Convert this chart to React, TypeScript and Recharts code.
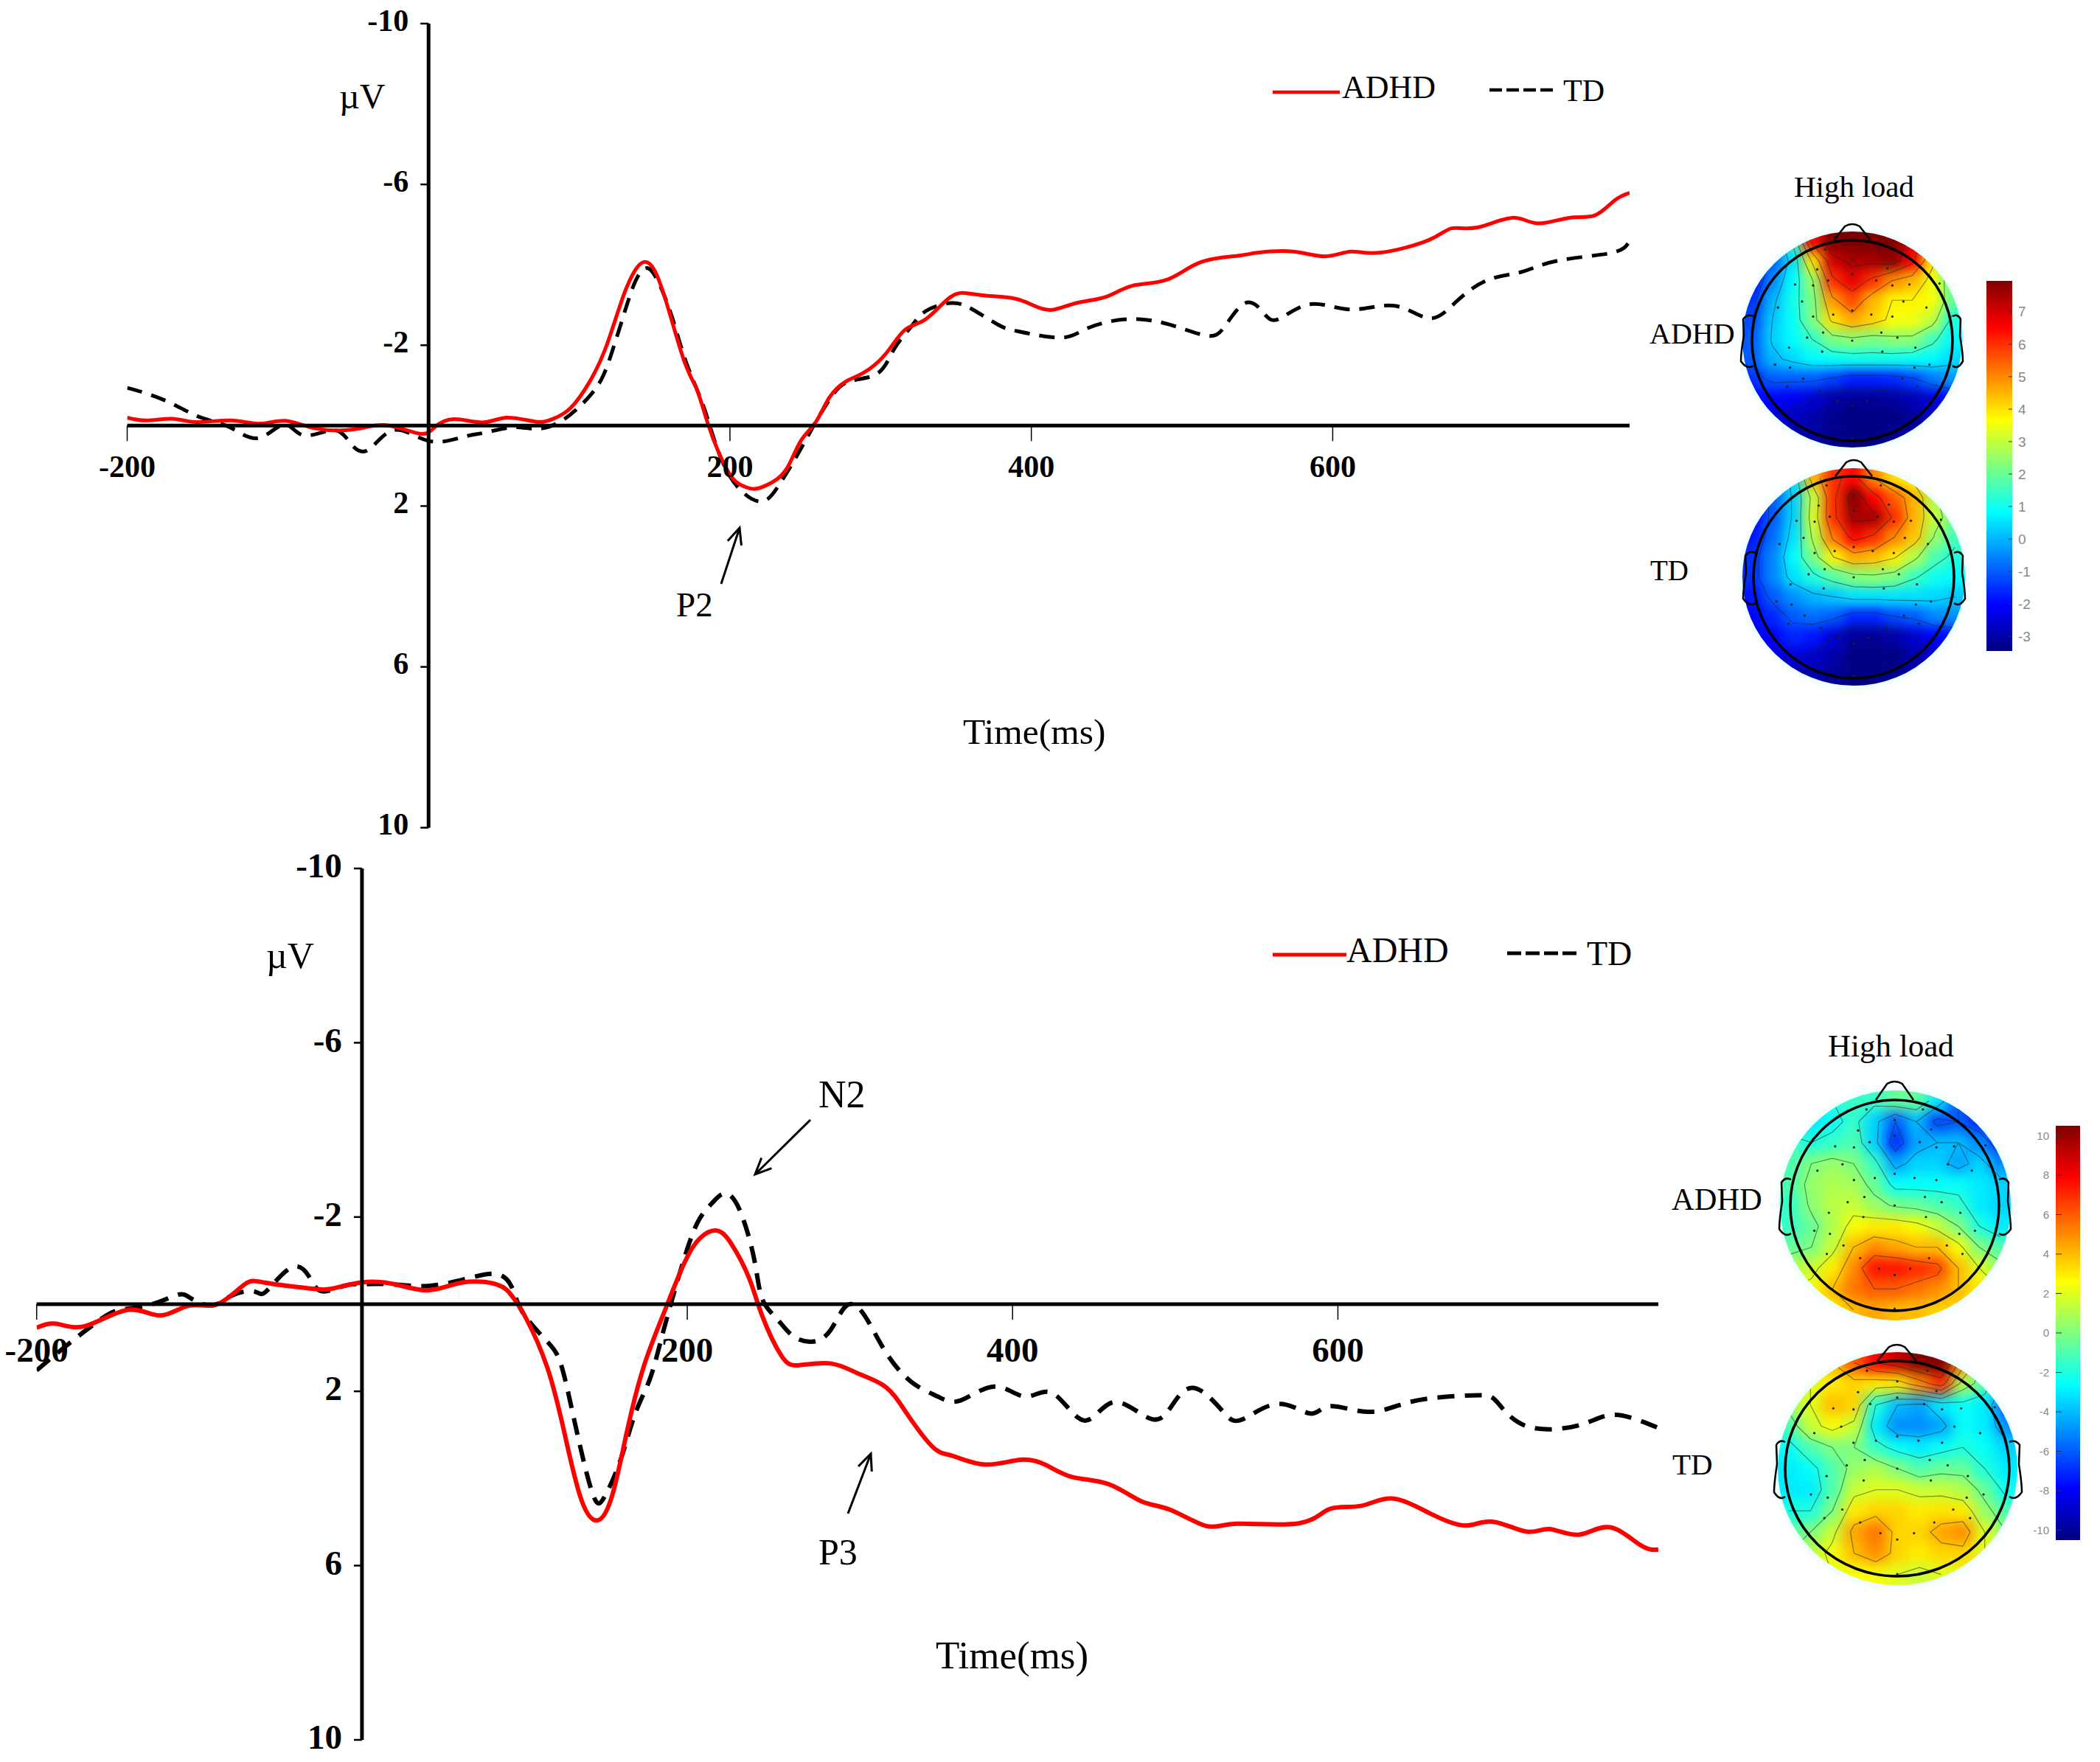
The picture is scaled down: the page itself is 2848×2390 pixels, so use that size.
import { Bar, BarChart, Line, LineChart, ReferenceLine, Scatter, ScatterChart, XAxis, YAxis } from "recharts";

const SERIF = "'Liberation Serif', 'Times New Roman', serif";

// [ms, uV]
const topAdhd = [
  [-200, -0.2], [-187, -0.13], [-170, -0.17], [-154, -0.09], [-131, -0.13], [-112, -0.05], [-95, -0.12], [-75, 0.07],
  [-49, 0.09], [-28, -0.01], [-6, 0.2], [4, 0.04], [17, -0.16], [36, -0.08], [52, -0.2], [71, -0.1], [82, -0.16],
  [94, -0.43], [107, -1.1], [118, -1.98], [129, -3.2], [137, -3.86], [143, -4.07], [150, -3.86], [159, -2.92],
  [170, -1.57], [178, -0.9], [185, -0.09], [193, 0.71], [202, 1.32], [210, 1.52], [217, 1.57], [228, 1.41],
  [238, 1.05], [247, 0.38], [257, -0.09], [266, -0.7], [277, -1.1], [288, -1.3], [303, -1.77], [316, -2.38],
  [330, -2.65], [346, -3.19], [358, -3.29], [371, -3.23], [389, -3.16], [402, -2.98], [414, -2.88], [430, -3.05],
  [450, -3.21], [467, -3.48], [490, -3.63], [512, -4.06], [536, -4.22], [550, -4.3], [574, -4.33], [595, -4.21],
  [612, -4.33], [631, -4.3], [664, -4.62], [679, -4.91], [696, -4.93], [719, -5.17], [736, -5.03], [757, -5.17],
  [774, -5.23], [787, -5.6], [797, -5.79],
];
const topTd = [
  [-200, -0.94], [-188, -0.81], [-171, -0.56], [-151, -0.2], [-132, 0.04], [-113, 0.31], [-96, -0.03], [-83, 0.24],
  [-64, 0.11], [-53, 0.38], [-41, 0.62], [-23, 0.11], [0, 0.38], [23, 0.28], [38, 0.17], [56, 0.04], [72, 0.08],
  [90, -0.16], [109, -0.83], [120, -1.64], [132, -3.05], [139, -3.72], [146, -3.91], [154, -3.45], [162, -2.65],
  [171, -1.57], [181, -0.63], [188, 0.17], [196, 0.98], [205, 1.52], [215, 1.83], [224, 1.85], [233, 1.45],
  [245, 0.71], [256, -0.03], [267, -0.7], [279, -1.1], [298, -1.3], [309, -1.91], [320, -2.45], [330, -2.85],
  [347, -3.05], [361, -2.89], [378, -2.51], [392, -2.34], [420, -2.19], [437, -2.42], [464, -2.65], [492, -2.51],
  [516, -2.24], [528, -2.45], [542, -3.05], [554, -2.81], [564, -2.65], [585, -3.02], [612, -2.89], [641, -2.98],
  [664, -2.67], [681, -3.05], [702, -3.61], [725, -3.82], [749, -4.1], [784, -4.29], [796, -4.53],
];
const bottomAdhd = [
  [-200, 0.54], [-188, 0.45], [-170, 0.5], [-144, 0.13], [-124, 0.26], [-106, 0.03], [-89, 0], [-72, -0.46],
  [-59, -0.49], [-32, -0.36], [-18, -0.36], [0, -0.5], [20, -0.46], [41, -0.32], [62, -0.5], [83, -0.45], [92, -0.2],
  [100, 0.26], [114, 1.46], [125, 3.04], [135, 4.5], [145, 4.96], [154, 4.37], [163, 2.91], [173, 1.46], [185, 0.26],
  [198, -0.93], [208, -1.52], [218, -1.69], [227, -1.39], [238, -0.6], [246, 0.26], [258, 1.19], [269, 1.4],
  [288, 1.36], [305, 1.59], [322, 1.9], [335, 2.51], [351, 3.28], [363, 3.48], [383, 3.68], [405, 3.57], [421, 3.7],
  [437, 3.97], [459, 4.13], [479, 4.52], [497, 4.72], [519, 5.09], [538, 5.04], [576, 5.03], [595, 4.7], [614, 4.63],
  [633, 4.46], [656, 4.79], [678, 5.08], [695, 4.99], [716, 5.22], [730, 5.16], [748, 5.29], [767, 5.12], [786, 5.53],
  [797, 5.63],
];
const bottomTd = [
  [-200, 1.52], [-181, 0.93], [-160, 0.33], [-148, 0.13], [-129, 0], [-113, -0.22], [-105, -0.13], [-92, 0.03],
  [-80, -0.2], [-66, -0.29], [-59, -0.29], [-44, -0.83], [-33, -0.66], [-25, -0.3], [-11, -0.42], [0, -0.46],
  [17, -0.46], [41, -0.42], [66, -0.6], [83, -0.69], [92, -0.4], [99, 0.2], [114, 0.86], [123, 1.46], [132, 2.91],
  [142, 4.37], [149, 4.43], [159, 3.57], [168, 2.51], [177, 1.72], [185, 0.66], [196, -0.79], [206, -1.85],
  [215, -2.31], [223, -2.54], [232, -2.18], [241, -1.06], [246, -0.13], [255, 0.33], [265, 0.73], [277, 0.86],
  [288, 0.6], [298, 0.03], [309, 0.26], [322, 1.1], [338, 1.79], [354, 2.12], [368, 2.21], [389, 1.89], [408, 2.12],
  [425, 2.05], [444, 2.67], [462, 2.25], [484, 2.62], [497, 2.38], [511, 1.92], [529, 2.45], [541, 2.65], [563, 2.29],
  [583, 2.51], [595, 2.34], [618, 2.47], [640, 2.29], [662, 2.14], [687, 2.09], [698, 2.25], [716, 2.8], [748, 2.78],
  [770, 2.54], [797, 2.84],
];

const xTicks = [-200, 200, 400, 600];
const yTicks = [-10, -6, -2, 2, 6, 10];
const topBarTicks = [7, 6, 5, 4, 3, 2, 1, 0, -1, -2, -3];
const bottomBarTicks = [10, 8, 6, 4, 2, 0, -2, -4, -6, -8, -10];
const topLevels = [-2.5, -1.2, 0.2, 1.4, 2.6, 3.8, 5, 6.2, 7.3];
const bottomLevels = [-6, -4, -2, 0, 2, 4, 6, 8];

// topographic maps, 11 x 11 samples of the colour scale, top row first
const mapTopAdhd = [
  [-2, -1, 1.5, 6.5, 8, 8, 8, 8, 7, 5, 1],
  [-2, -1, 0.5, 4, 7, 7.5, 7.5, 7.8, 6.5, 4, 2],
  [-2, -0.5, 0.8, 2.5, 6, 6.8, 6, 5, 4.5, 3.5, 2],
  [-1.5, 0, 1, 2.2, 4.8, 5.7, 4.5, 3.8, 3.8, 3.6, 2],
  [-1.2, 0.2, 0.9, 2.2, 4, 4.6, 4.2, 3.6, 3.5, 3, 1.2],
  [-1, 0.3, 0.8, 1.4, 2.2, 2.4, 2.2, 2.4, 2.4, 1.6, 0.8],
  [-1, 0, 0.4, 0.8, 0.9, 1, 1, 1, 0.9, 0.8, 0.4],
  [-1.5, -1, -1, -1, -1.3, -1.7, -1.7, -1.6, -1.3, -0.7, -0.3],
  [-2, -2, -2.2, -2.5, -3, -3.2, -3.2, -3.1, -2.8, -2.4, -2],
  [-2.5, -2.5, -2.7, -3, -3.3, -3.4, -3.4, -3.4, -3.2, -2.8, -2.5],
  [-3, -3, -3, -3, -3.3, -3.4, -3.4, -3.3, -3, -3, -3],
];
const mapTopTd = [
  [-2, -1, 0.5, 4.5, 6, 6.5, 5, 4, 3.5, 2, 1],
  [-2, -1, 0.3, 3, 6, 7.9, 6.5, 5.5, 4.5, 2.8, 1.5],
  [-2, -1, 0.3, 3.2, 6, 7.5, 7.5, 6, 4.5, 3, 2],
  [-1.8, -0.8, 0.5, 2.8, 5.2, 6.5, 6, 5, 4.3, 2.5, 1.6],
  [-1.5, -0.5, 0.8, 2.2, 3.8, 4.6, 4.4, 3.9, 2.8, 1.7, 1.2],
  [-1.5, -0.5, 0.5, 1.2, 1.8, 2.3, 2.4, 2.2, 1.5, 1, 0.8],
  [-1.8, -1, -0.4, 0, 0.2, 0.5, 0.5, 0.5, 0.5, 0.4, 0.2],
  [-2, -1.6, -1, -0.8, -1, -1.6, -1.6, -1.2, -1, -0.5, -0.4],
  [-2.2, -2, -1.6, -1.8, -2.5, -3.2, -3.2, -3, -2.5, -2, -1.8],
  [-2.6, -2.4, -2.4, -2.6, -3, -3.4, -3.4, -3.4, -3, -2.6, -2.4],
  [-3, -3, -3, -3, -3.2, -3.4, -3.4, -3.3, -3, -3, -3],
];
const mapBottomAdhd = [
  [-2, -2, -2, -1.5, -1.5, -0.5, -0.5, -3, -6, -7, -7],
  [-3, -3, -2.5, -1.5, -3.5, -6, -4, -6.5, -6, -7, -7],
  [-1.5, -2, -1.5, -1, -3.5, -7, -4.5, -4, -4, -5, -7],
  [-1, 0, 0.5, 0, -1.5, -4.5, -3.5, -3.5, -4.5, -3.5, -5],
  [-1, 0.5, 1, 0.8, -0.5, -2.5, -2.5, -2.5, -2.5, -3, -3.5],
  [-1.5, 0.3, 1.2, 1.5, 0.5, -0.2, -0.5, -1, -1.5, -3, -3.5],
  [-1.5, -0.5, 1, 2.5, 3, 3, 2.5, 1.5, 0, -2, -3],
  [-0.5, 0, 1.5, 4, 5, 4.5, 4, 4, 2.5, 0, -1],
  [1, 1.5, 3, 5, 7.5, 7.5, 7, 6.5, 4, 2, 0.5],
  [2, 2.5, 4, 5.5, 6, 6, 5.5, 5, 4, 3, 2],
  [3, 3, 3, 4, 4.5, 4, 4, 3.5, 3.5, 3, 3],
];
const mapBottomTd = [
  [1, 2, 4, 6, 8, 9, 10.5, 10.5, 5, 0, -4],
  [0.5, 2, 3, 3.5, 3, 3, 5, 7, 1, -1, -5],
  [0.5, 2, 4, 3.5, -2, -4, -4.5, -3, -2.5, -3, -6],
  [-1, 1.5, 2.5, 1.5, -3, -5, -5, -4.5, -2.5, -3, -5],
  [-2.5, -1, 0, 0, -1.5, -2.5, -3, -2.5, -2, -2.5, -3.5],
  [-3, -2.5, -1, 0.5, 1, 0, -1, -0.5, -0.5, -2, -3],
  [-3, -3, -1, 1.5, 2, 2, 1.5, 1.5, 1, -0.5, -2.5],
  [-2, -2, 0, 3, 3.5, 3.5, 3, 3.2, 3, 0.5, -1],
  [-1, 0, 1.5, 4.5, 5.5, 3.5, 3.5, 4.5, 5, 2, 0],
  [0, 1, 2.5, 4, 5, 3.5, 3, 3.5, 3.5, 2, 1],
  [1, 1, 2, 2.5, 2.5, 2, 1.5, 2, 2, 1, 1],
];

// electrode positions inside the head circle
const electrodes = [
  [-0.27, -0.91], [0, -0.81], [0.27, -0.91], [0.35, -0.72], [-0.35, -0.71], [0, -0.66], [-0.24, -0.6], [0.24, -0.6],
  [-0.57, -0.56], [-0.39, -0.55], [0.4, -0.55], [0.57, -0.56], [0.87, -0.57], [-0.5, -0.39], [0.51, -0.39],
  [-0.74, -0.33], [0.74, -0.33], [0, -0.3], [-0.19, -0.26], [0.19, -0.26], [-0.39, -0.24], [0.4, -0.24], [-0.29, -0.08],
  [0.29, -0.08], [-0.45, -0.03], [0, 0], [0.45, -0.03], [-0.63, 0.07], [-0.3, 0.11], [0.3, 0.11], [0.63, 0.07],
  [-0.77, 0.24], [-0.62, 0.27], [0.77, 0.24], [0.62, 0.27], [-0.49, 0.38], [0.5, 0.38], [-0.65, 0.46], [0.65, 0.46],
  [-0.33, 0.5], [0.33, 0.5], [-0.15, 0.6], [0.15, 0.6], [0, 0.66], [0, 0.98],
];

const jet = (t: number) => {
  const c = (v: number) => Math.round(255 * Math.min(1, Math.max(0, v)));
  return `rgb(${c(1.5 - Math.abs(4 * t - 3))},${c(1.5 - Math.abs(4 * t - 2))},${c(1.5 - Math.abs(4 * t - 1))})`;
};
const jetStops = [0, 0.125, 0.375, 0.625, 0.875, 1];

// marching squares over the sample grid, returned as path data in grid units
function contourPath(grid: number[][], level: number, sx: (c: number) => number, sy: (r: number) => number) {
  let d = "";
  for (let r = 0; r < grid.length - 1; r++) {
    for (let c = 0; c < grid[r].length - 1; c++) {
      const corners = [
        [c, r, grid[r][c]],
        [c + 1, r, grid[r][c + 1]],
        [c + 1, r + 1, grid[r + 1][c + 1]],
        [c, r + 1, grid[r + 1][c]],
      ];
      const hits: number[][] = [];
      corners.forEach((a, i) => {
        const b = corners[(i + 1) % 4];
        if (a[2] < level !== b[2] < level) {
          const t = (level - a[2]) / (b[2] - a[2]);
          hits.push([a[0] + (b[0] - a[0]) * t, a[1] + (b[1] - a[1]) * t]);
        }
      });
      for (let i = 0; i + 1 < hits.length; i += 2) {
        d += `M${sx(hits[i][0])} ${sy(hits[i][1])}L${sx(hits[i + 1][0])} ${sy(hits[i + 1][1])}`;
      }
    }
  }
  return d;
}

function ErpChart({ top, bottom, left, right, height, font, adhd, td, width, dash, labelShift }: any) {
  const zero = (top + bottom) / 2;
  const pxPerMs = (right - left) / 997;
  const axisX = left + 200 * pxPerMs;
  return (
    <div style={{ position: "absolute", left: 0, top: 0 }}>
      <LineChart width={2300} height={height} margin={{ top, right: 2300 - right, bottom: 0, left: 0 }}>
        <XAxis
          type="number"
          dataKey="ms"
          domain={[-200, 797]}
          ticks={xTicks}
          height={height - bottom}
          axisLine={false}
          tickLine={false}
          allowDataOverflow
          tick={(p: any) => (
            <g>
              <line x1={p.x} x2={p.x} y1={zero} y2={zero + 21} stroke="#000" strokeWidth={1.5} />
              <text x={p.x} y={zero + font * 1.68 - 1} textAnchor="middle" fontFamily={SERIF} fontWeight="bold" fontSize={font} fill="#000">
                {p.payload.value}
              </text>
            </g>
          )}
        />
        <YAxis
          type="number"
          domain={[-10, 10]}
          ticks={yTicks}
          reversed
          width={left}
          axisLine={false}
          tickLine={false}
          interval={0}
          tick={(p: any) => (
            <g>
              <line x1={axisX - 11} x2={axisX} y1={p.y} y2={p.y} stroke="#000" strokeWidth={2.5} />
              <text x={axisX - 27} y={p.y + font * 0.3 - labelShift} textAnchor="end" fontFamily={SERIF} fontWeight="bold" fontSize={font} fill="#000">
                {p.payload.value}
              </text>
            </g>
          )}
        />
        <Line data={td.map(([ms, uv]: number[]) => ({ ms, uv }))} dataKey="uv" stroke="#000" strokeWidth={width} strokeDasharray={dash} type="natural" dot={false} isAnimationActive={false} />
        <Line data={adhd.map(([ms, uv]: number[]) => ({ ms, uv }))} dataKey="uv" stroke="#ff0000" strokeWidth={width} type="natural" dot={false} isAnimationActive={false} />
        <ReferenceLine y={0} stroke="#000" strokeWidth={5} />
        <ReferenceLine x={0} stroke="#000" strokeWidth={5} />
      </LineChart>
    </div>
  );
}

function HeadMap({ box, head, nose, ears, grid, lo, hi, levels, id }: any) {
  const pad = 30;
  const cw = box.w / 11;
  const ch = box.h / 11;
  const cells = grid.flatMap((row: number[], r: number) => row.map((v, c) => ({ c, r, v })));
  const cell = (p: any) => {
    const { c, r, v } = p.payload;
    const x0 = p.cx - cw / 2 - (c === 0 ? pad : 0);
    const x1 = p.cx + cw / 2 + (c === 10 ? pad : 0) + 0.5;
    const y0 = p.cy - ch / 2 - (r === 0 ? pad : 0);
    const y1 = p.cy + ch / 2 + (r === 10 ? pad : 0) + 0.5;
    return <rect x={x0} y={y0} width={x1 - x0} height={y1 - y0} fill={jet((v - lo) / (hi - lo))} />;
  };
  const hx = head.x + head.w / 2;
  const hy = head.y + head.h / 2;
  const points = electrodes.map(([x, y]) => ({ x, y }));
  const sx = (c: number) => box.x + (c + 0.5) * cw;
  const sy = (r: number) => box.y + (r + 0.5) * ch;
  return (
    <>
      <div style={{ position: "absolute", left: box.x, top: box.y, width: box.w, height: box.h, borderRadius: "50%", overflow: "hidden", boxShadow: "0 0 8px 4px #eafcff" }}>
        <div style={{ position: "absolute", left: -pad, top: -pad, filter: `blur(${cw * 0.3}px)` }}>
          <ScatterChart width={box.w + 2 * pad} height={box.h + 2 * pad} margin={{ top: pad, right: pad, bottom: pad, left: pad }}>
            <XAxis type="number" dataKey="c" domain={[-0.5, 10.5]} hide />
            <YAxis type="number" dataKey="r" domain={[-0.5, 10.5]} reversed hide />
            <Scatter data={cells} shape={cell} isAnimationActive={false} />
          </ScatterChart>
        </div>
      </div>
      <div style={{ position: "absolute", left: head.x, top: head.y }}>
        <ScatterChart width={head.w} height={head.h} margin={{ top: 0, right: 0, bottom: 0, left: 0 }}>
          <XAxis type="number" dataKey="x" domain={[-1, 1]} hide />
          <YAxis type="number" dataKey="y" domain={[-1, 1]} reversed hide />
          <Scatter data={points} fill="#222" shape={(p: any) => <circle cx={p.cx} cy={p.cy} r={1.6} fill="#222" />} isAnimationActive={false} />
        </ScatterChart>
      </div>
      <svg width={2848} height={2390} style={{ position: "absolute", left: 0, top: 0, pointerEvents: "none" }}>
        <defs>
          <clipPath id={id}>
            <ellipse cx={box.x + box.w / 2} cy={box.y + box.h / 2} rx={box.w / 2} ry={box.h / 2} />
          </clipPath>
        </defs>
        <g clipPath={`url(#${id})`} fill="none" stroke="rgba(20,40,40,0.5)" strokeWidth={1.2}>
          {levels.map((l: number) => (
            <path key={l} d={contourPath(grid, l, sx, sy)} />
          ))}
        </g>
        <g fill="none" stroke="#000">
          <ellipse cx={hx} cy={hy} rx={head.w / 2} ry={head.h / 2} strokeWidth={3.5} />
          <path strokeWidth={2.5} d={`M${nose.x0} ${nose.base} L${nose.x0 + (nose.x1 - nose.x0) * 0.3} ${nose.top + 3} Q${(nose.x0 + nose.x1) / 2} ${nose.top - 3} ${nose.x0 + (nose.x1 - nose.x0) * 0.7} ${nose.top + 3} L${nose.x1} ${nose.base}`} />
          {ears.map((e: any, i: number) => {
            const s = i === 0 ? -1 : 1;
            const inner = e.inner;
            const outer = inner + s * e.w;
            return (
              <path
                key={i}
                strokeWidth={2.5}
                d={`M${inner} ${e.y0} Q${inner + (outer - inner) * 0.5} ${e.y0 - 4} ${outer - s * 3} ${e.y0 + 4} L${outer - s * 4} ${(e.y0 + e.y1) / 2 - 8} Q${outer} ${e.y1 - 20} ${outer} ${e.y1 - 8} Q${inner + (outer - inner) * 0.5} ${e.y1 + 4} ${inner} ${e.y1 - 2}`}
              />
            );
          })}
        </g>
      </svg>
    </>
  );
}

function ColorBar({ x, y, w, h, lo, hi, ticks, id, side, font }: any) {
  const labelRoom = 70;
  return (
    <div style={{ position: "absolute", left: side === "right" ? x : x - labelRoom, top: y }}>
      <BarChart width={w + labelRoom} height={h} data={[{ name: "scale", range: [lo, hi] }]} barCategoryGap={0} margin={{ top: 0, right: 0, bottom: 0, left: 0 }}>
        <defs>
          <linearGradient id={id} x1="0" y1="1" x2="0" y2="0">
            {jetStops.map((t) => (
              <stop key={t} offset={t} stopColor={jet(t)} />
            ))}
          </linearGradient>
        </defs>
        <XAxis dataKey="name" hide />
        <YAxis
          type="number"
          domain={[lo, hi]}
          ticks={ticks}
          interval={0}
          orientation={side}
          width={labelRoom}
          axisLine={false}
          tickLine={false}
          tick={(p: any) => {
            const edge = side === "right" ? w : labelRoom;
            const inner = side === "right" ? edge - 5 : edge + 8;
            return (
              <g>
                <line x1={inner} x2={edge} y1={p.y} y2={p.y} stroke="#333" strokeWidth={1} />
                <text x={side === "right" ? edge + 8 : edge - 9} y={p.y + font * 0.35} textAnchor={side === "right" ? "start" : "end"} fontFamily="'Liberation Sans', sans-serif" fontSize={font} fill="#888">
                  {p.payload.value}
                </text>
              </g>
            );
          }}
        />
        <Bar dataKey="range" fill={`url(#${id})`} isAnimationActive={false} />
      </BarChart>
    </div>
  );
}

function Arrow({ x1, y1, x2, y2 }: any) {
  const a = Math.atan2(y2 - y1, x2 - x1);
  const wing = (d: number) => `${x2 - 24 * Math.cos(a + d)} ${y2 - 24 * Math.sin(a + d)}`;
  return (
    <g stroke="#000" strokeWidth={3} fill="none">
      <line x1={x1} y1={y1} x2={x2} y2={y2} />
      <path d={`M${wing(0.42)} L${x2} ${y2} L${wing(-0.42)}`} />
    </g>
  );
}

function Label({ x, y, size, children }: any) {
  return (
    <text x={x} y={y} fontFamily={SERIF} fontSize={size} fill="#000">
      {children}
    </text>
  );
}

export default function App() {
  return (
    <div style={{ position: "absolute", left: 0, top: 0, width: 2848, height: 2390, background: "#fff", overflow: "hidden" }}>
      <ErpChart top={32} bottom={1122.7} left={172.5} right={2210} height={1160} font={42} adhd={topAdhd} td={topTd} width={5} dash="21 13" labelShift={3} />
      <ErpChart top={1178} bottom={2360} left={49.7} right={2249} height={2385} font={47} adhd={bottomAdhd} td={bottomTd} width={6} dash="23 14" labelShift={2} />

      <HeadMap
        box={{ x: 2363, y: 314, w: 298, h: 293 }}
        head={{ x: 2376, y: 326, w: 272, h: 272 }}
        nose={{ x0: 2487, x1: 2537, top: 304, base: 326 }}
        ears={[{ inner: 2378, w: 17, y0: 429, y1: 498 }, { inner: 2648, w: 14, y0: 429, y1: 498 }]}
        grid={mapTopAdhd}
        lo={-3.45}
        hi={7.95}
        levels={topLevels}
        id="clipA"
      />
      <HeadMap
        box={{ x: 2363, y: 635, w: 302, h: 295 }}
        head={{ x: 2378, y: 646, w: 272, h: 274 }}
        nose={{ x0: 2489, x1: 2539, top: 624, base: 646 }}
        ears={[{ inner: 2381, w: 17, y0: 750, y1: 820 }, { inner: 2650, w: 15, y0: 750, y1: 820 }]}
        grid={mapTopTd}
        lo={-3.45}
        hi={7.95}
        levels={topLevels}
        id="clipB"
      />
      <HeadMap
        box={{ x: 2414, y: 1479, w: 313, h: 312 }}
        head={{ x: 2428, y: 1492, w: 283, h: 286 }}
        nose={{ x0: 2544, x1: 2595, top: 1467, base: 1492 }}
        ears={[{ inner: 2429, w: 16, y0: 1600, y1: 1675 }, { inner: 2711, w: 16, y0: 1600, y1: 1675 }]}
        grid={mapBottomAdhd}
        lo={-10.5}
        hi={10.5}
        levels={bottomLevels}
        id="clipC"
      />
      <HeadMap
        box={{ x: 2411, y: 1834, w: 325, h: 316 }}
        head={{ x: 2421, y: 1846, w: 304, h: 292 }}
        nose={{ x0: 2546, x1: 2599, top: 1824, base: 1846 }}
        ears={[{ inner: 2421, w: 15, y0: 1956, y1: 2032 }, { inner: 2725, w: 17, y0: 1956, y1: 2032 }]}
        grid={mapBottomTd}
        lo={-10.5}
        hi={10.5}
        levels={bottomLevels}
        id="clipD"
      />

      <ColorBar x={2694} y={381} w={35} h={502} lo={-3.45} hi={7.95} ticks={topBarTicks} id="jetTop" side="right" font={19} />
      <ColorBar x={2788} y={1527} w={33} h={562} lo={-10.5} hi={10.5} ticks={bottomBarTicks} id="jetBottom" side="left" font={15} />

      <svg width={2848} height={2390} style={{ position: "absolute", left: 0, top: 0, pointerEvents: "none" }}>
        <Label x={460} y={147} size={48}>µV</Label>
        <Label x={917} y={836} size={47}>P2</Label>
        <Label x={1306} y={1009} size={49.5}>Time(ms)</Label>
        <line x1={1726} x2={1817} y1={125} y2={125} stroke="#ff0000" strokeWidth={4.5} />
        <Label x={1820} y={133} size={44}>ADHD</Label>
        <line x1={2020} x2={2112} y1={122} y2={122} stroke="#000" strokeWidth={4.5} strokeDasharray="17 6" />
        <Label x={2120} y={137} size={42}>TD</Label>
        <Arrow x1={978} y1={792} x2={1003} y2={716} />

        <Label x={361} y={1313} size={50}>µV</Label>
        <Label x={1110} y={1502} size={52}>N2</Label>
        <Label x={1110} y={2122} size={50}>P3</Label>
        <Label x={1269} y={2263} size={53}>Time(ms)</Label>
        <line x1={1726} x2={1826} y1={1295} y2={1295} stroke="#ff0000" strokeWidth={5} />
        <Label x={1826} y={1305} size={48}>ADHD</Label>
        <line x1={2044} x2={2141} y1={1293} y2={1293} stroke="#000" strokeWidth={5} strokeDasharray="19 6" />
        <Label x={2152} y={1309} size={46}>TD</Label>
        <Arrow x1={1099} y1={1519} x2={1024} y2={1593} />
        <Arrow x1={1150} y1={2053} x2={1181} y2={1972} />

        <Label x={2433} y={267} size={41}>High load</Label>
        <Label x={2237} y={466} size={40}>ADHD</Label>
        <Label x={2238} y={787} size={39}>TD</Label>
        <Label x={2479} y={1433} size={43}>High load</Label>
        <Label x={2267} y={1641} size={42.5}>ADHD</Label>
        <Label x={2268} y={2000} size={41}>TD</Label>
      </svg>
    </div>
  );
}
